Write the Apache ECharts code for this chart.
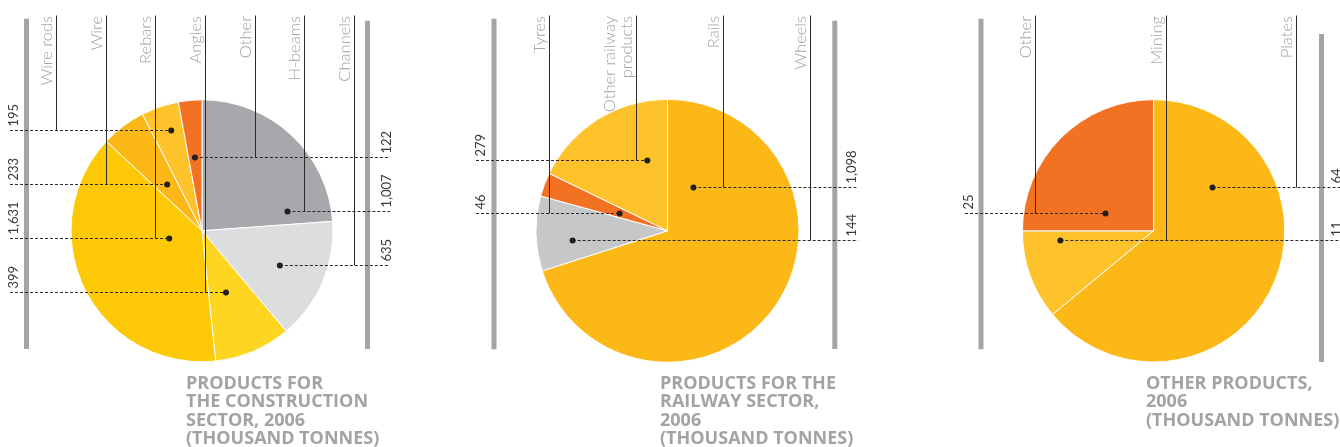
<!DOCTYPE html>
<html>
<head>
<meta charset="utf-8">
<script src="https://cdn.jsdelivr.net/npm/echarts@6/dist/echarts.min.js"></script>
<style>
  html, body { margin: 0; padding: 0; background: #fff; }
  #chart { width: 1340px; height: 447px; }
</style>
</head>
<body>
<div id="chart"></div>
<script>
// ---- Data (thousand tonnes, 2006) ----
// Slices are listed clockwise from 12 o'clock.
const constructionNames  = ['H-beams', 'Channels', 'Angles', 'Rebars', 'Wire', 'Wire rods', 'Other'];
const constructionValues = [1007, 635, 399, 1631, 233, 195, 122];
const constructionHeader = ['Wire rods', 'Wire', 'Rebars', 'Angles', 'Other', 'H-beams', 'Channels'];
const constructionTitle  = ['PRODUCTS FOR', 'THE CONSTRUCTION', 'SECTOR, 2006', '(THOUSAND TONNES)'];

const railwayNames  = ['Rails', 'Wheels', 'Tyres', 'Other railway products'];
const railwayValues = [1098, 144, 46, 279];
const railwayHeader = ['Tyres', 'Other railway products', 'Rails', 'Wheels'];
const railwayTitle  = ['PRODUCTS FOR THE', 'RAILWAY SECTOR,', '2006', '(THOUSAND TONNES)'];

const otherNames  = ['Plates', 'Mining', 'Other'];
const otherValues = [64, 11, 25];
const otherHeader = ['Other', 'Mining', 'Plates'];
const otherTitle  = ['OTHER PRODUCTS,', '2006', '(THOUSAND TONNES)'];

// ---- Styles ----
const constructionColors = ['#a7a8ab', '#dcdddf', '#fed520', '#fdc907', '#fbb817', '#fec22a', '#f37123'];
const railwayColors      = ['#fbb817', '#c6c7c9', '#f37123', '#fec22a'];
const otherColors        = ['#fbb817', '#fec22a', '#f37123'];

const LABEL_GREY = '#a2a3a5';
const TITLE_GREY = '#a2a3a5';
const BAR_GREY   = '#a3a4a6';
const INK        = '#2a2a2a';

// ---- Panel layout (pixels) ----
const panels = [
  {
    names: constructionNames, values: constructionValues, header: constructionHeader,
    title: constructionTitle, colors: constructionColors,
    layout: {
      cx: 202, cy: 230.8, r: 131,
      lineX0: 56.7, lineStep: 49.6,
      barL: [26.5, 18.7, 349], barR: [367.5, 20.7, 349],
      numL: 14, numR: 387, dashL: 10, dashR: 390,
      rowTop: 130, rowStep: 27,
      rows: [3, 5, 6, 4, 2, 0, 1],
      side: ['R', 'R', 'L', 'L', 'L', 'L', 'R'],
      dotFrac: [0.9, 0.52, 0.55, 0.595, 0.5, 0.6, 0.47],
      titleX: 186
    }
  },
  {
    names: railwayNames, values: railwayValues, header: railwayHeader,
    title: railwayTitle, colors: railwayColors,
    layout: {
      cx: 667.5, cy: 230.8, r: 131.5,
      lineX0: 549, lineStep: 87.1,
      barL: [494, 18.7, 349.3], barR: [834.8, 20.7, 349],
      numL: 481, numR: 852, dashL: 476, dashR: 858,
      rowTop: 160.7, rowStep: 26.6,
      rows: [1, 3, 2, 0],
      side: ['R', 'R', 'L', 'L'],
      dotFrac: [0.1225, 0.36, 0.43, 0.75],
      titleX: 660
    }
  },
  {
    names: otherNames, values: otherValues, header: otherHeader,
    title: otherTitle, colors: otherColors,
    layout: {
      cx: 1153.6, cy: 230.8, r: 131.2,
      lineX0: 1035.3, lineStep: 130.7,
      barL: [981, 18.7, 349.3], barR: [1321.5, 34, 362],
      numL: 969, numR: 1337, dashL: 965, dashR: 1345,
      rowTop: 160.7, rowStep: 26.6,
      rows: [1, 3, 2],
      side: ['R', 'R', 'L'],
      dotFrac: [0.233, 0.85, 0.22],
      titleX: 1146
    }
  }
];

const fmt = v => v.toLocaleString('en-US');
const wrapName = s => {
  if (s.length <= 15) return s;
  const i = s.lastIndexOf(' ');
  return s.slice(0, i) + '\n' + s.slice(i + 1);
};
const crisp = v => Math.round(v - 0.5) + 0.5;

function rotatedText(x, y, text, font, fill, align, vAlign, z) {
  return {
    type: 'text', x: x, y: y, rotation: Math.PI / 2, z: z || 20, silent: true,
    style: {
      text: text, font: font, fill: fill,
      align: align, verticalAlign: vAlign,
      textAlign: align, textVerticalAlign: vAlign
    }
  };
}

const series = [];
const elements = [];

panels.forEach(p => {
  const L = p.layout;

  series.push({
    type: 'pie',
    center: [L.cx, L.cy],
    radius: [0, L.r],
    startAngle: 90,
    clockwise: true,
    silent: true,
    animation: false,
    label: { show: false },
    labelLine: { show: false },
    emphasis: { disabled: true },
    itemStyle: { borderColor: '#ffffff', borderWidth: 1 },
    data: p.names.map((n, i) => ({ name: n, value: p.values[i], itemStyle: { color: p.colors[i] } }))
  });

  // side rules
  [L.barL, L.barR].forEach(b => {
    elements.push({
      type: 'rect', z: 5, silent: true,
      shape: { x: b[0] - 2.5, y: b[1], width: 5, height: b[2] - b[1] },
      style: { fill: BAR_GREY }
    });
  });

  const total = p.values.reduce((a, b) => a + b, 0);
  const rowY = i => crisp(L.rowTop + L.rows[i] * L.rowStep);

  // slice anchor points: on the slice's row, along a ray inside the slice
  const dots = [];
  let acc = 0;
  p.values.forEach((v, i) => {
    const start = acc / total * 360;
    const span = v / total * 360;
    acc += v;
    const th = (start + L.dotFrac[i] * span) * Math.PI / 180;
    const y = rowY(i);
    const t = (y - L.cy) / (-Math.cos(th));
    dots.push([L.cx + t * Math.sin(th), y]);
  });

  // column headers with their drop lines
  p.header.forEach((name, j) => {
    const i = p.names.indexOf(name);
    const x = crisp(L.lineX0 + j * L.lineStep);
    elements.push({
      type: 'line', z: 15, silent: true,
      shape: { x1: x, y1: 15.5, x2: x, y2: rowY(i) },
      style: { stroke: INK, lineWidth: 1 }
    });
    elements.push(rotatedText(x - 1.5, 16, wrapName(name), '300 16.5px Lato', LABEL_GREY, 'right', 'bottom'));
  });

  // dotted leaders, dots and value labels
  p.names.forEach((name, i) => {
    const d = dots[i];
    const left = L.side[i] === 'L';
    elements.push({
      type: 'line', z: 15, silent: true,
      shape: { x1: left ? L.dashL : d[0], y1: d[1], x2: left ? d[0] : L.dashR, y2: d[1] },
      style: { stroke: INK, lineWidth: 1, lineDash: [3, 2] }
    });
    elements.push({
      type: 'circle', z: 18, silent: true,
      shape: { cx: d[0], cy: d[1], r: 3 },
      style: { fill: '#231f20' }
    });
    elements.push(rotatedText(left ? L.numL : L.numR, d[1] - 4, fmt(p.values[i]),
      '13px Lato', '#3a3a3a', 'left', 'middle'));
  });

  // panel title
  p.title.forEach((line, k) => {
    elements.push({
      type: 'text', x: L.titleX, y: 384 + k * 18.3, z: 20, silent: true,
      style: {
        text: line, font: 'bold 18px "Open Sans"', fill: TITLE_GREY,
        align: 'left', verticalAlign: 'middle', textAlign: 'left', textVerticalAlign: 'middle'
      }
    });
  });
});

const chart = echarts.init(document.getElementById('chart'), null, { renderer: 'canvas' });
chart.setOption({
  animation: false,
  backgroundColor: '#ffffff',
  series: series,
  graphic: { elements: elements }
});
</script>
</body>
</html>
